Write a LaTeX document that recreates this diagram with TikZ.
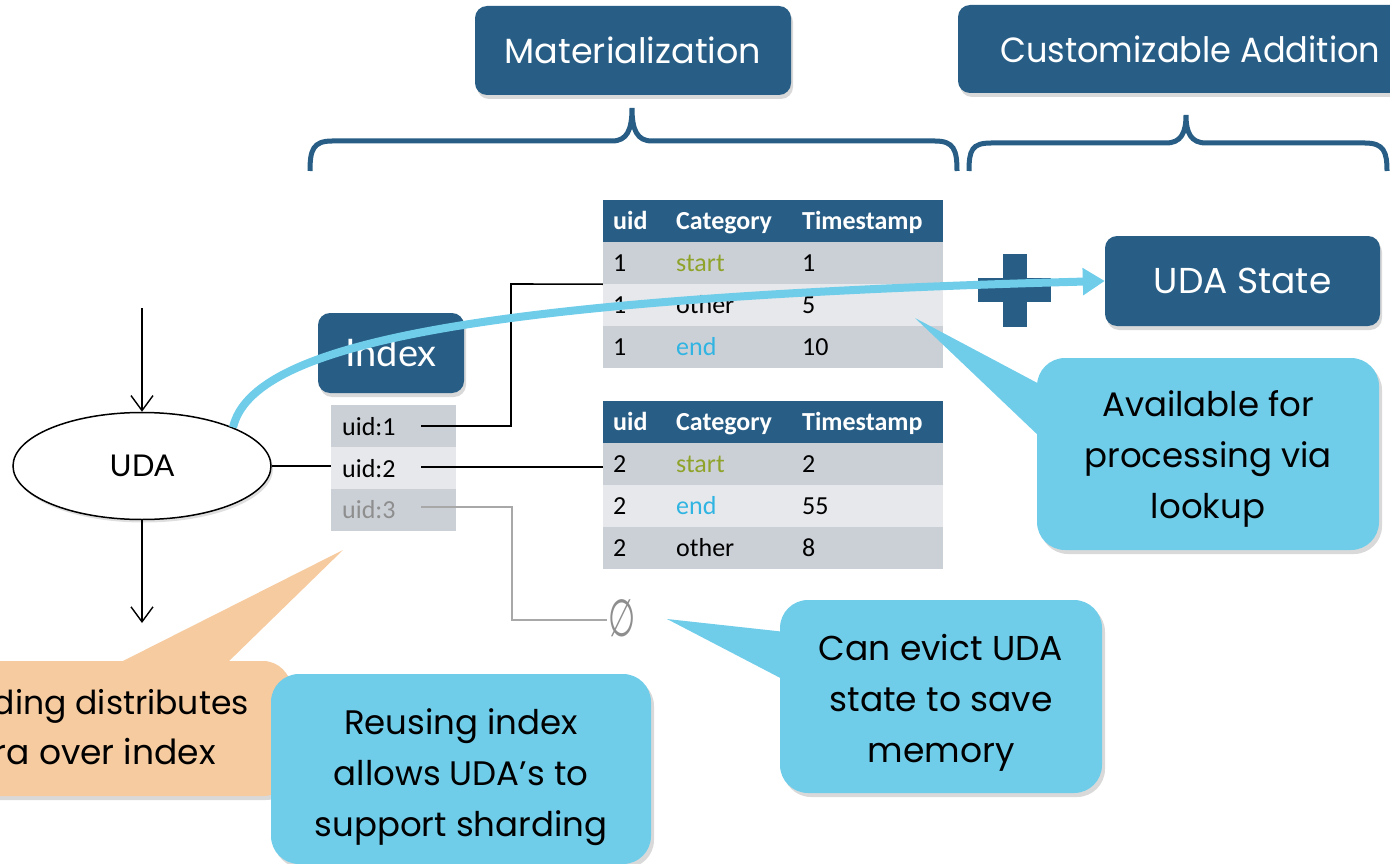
\documentclass[tikz,border=0pt]{standalone}
\usepackage{fontspec}
\setmainfont{Carlito}
\newfontfamily\gothic{Poppins}
\newfontfamily\narrowgothic[FakeStretch=0.96]{Poppins}
\newfontfamily\humfont{Lato}
\newfontfamily\symfont{DejaVu Sans}
\usetikzlibrary{arrows.meta,shadows,shapes.geometric,calc}

\definecolor{navy}{HTML}{285E86}
\definecolor{sky}{HTML}{6FCDEA}
\definecolor{peach}{HTML}{F6CBA0}
\definecolor{rowA}{HTML}{CBD0D7}
\definecolor{rowB}{HTML}{E7E8EC}
\definecolor{olive}{HTML}{8FA32A}
\definecolor{cyanword}{HTML}{30B4E2}
\definecolor{greytext}{HTML}{8E8E8E}
\definecolor{greyline}{HTML}{A8A8A8}

% one table row: name, top edge, fill, uid, category, category colour, timestamp
\newcommand\trow[7]{%
  \node[rowcell, fill=#3] (#1) at (773,#2+21) {};
  \node[celltxt] (#1u) at (613,#2+29) {#4};
  \node[celltxt, text=#6] (#1c) at (676,#2+29) {#5};
  \node[celltxt] (#1t) at (802,#2+29) {#7};
}
% header row of a table
\newcommand\thead[2]{%
  \node[rowcell, fill=navy] (#1) at (773,#2+21) {};
  \node[celltxt, headtxt] (#1u) at (613,#2+29) {uid};
  \node[celltxt, headtxt] (#1c) at (676,#2+29) {Category};
  \node[celltxt, headtxt] (#1t) at (802,#2+29) {Timestamp};
}

\begin{document}
\begin{tikzpicture}[x=1pt,y=-1pt,
  navybox/.style={rectangle, rounded corners=12pt, fill=navy, text=white, inner sep=0pt,
    drop shadow={opacity=0.3, shadow xshift=2pt, shadow yshift=-4pt}},
  titletxt/.style={font=\gothic\fontsize{35}{40}\selectfont},
  rowcell/.style={rectangle, minimum width=340pt, minimum height=42pt, inner sep=0pt},
  celltxt/.style={anchor=base west, inner sep=0pt, font=\fontsize{26}{30}\selectfont},
  headtxt/.style={text=white, font=\bfseries\fontsize{26}{30}\selectfont},
  listcell/.style={rectangle, minimum width=125pt, minimum height=42pt, inner sep=0pt},
  link/.style={line width=1.6pt, black},
  flow/.style={line width=1.4pt, -{Straight Barb[length=15pt,width=22pt]}},
  callbox/.style={rectangle, rounded corners=28pt, fill=sky, inner sep=0pt,
    drop shadow={opacity=0.3, shadow xshift=3pt, shadow yshift=-4pt}},
  calltxt/.style={align=center, inner sep=0pt, font=\gothic\fontsize{#1}{51}\selectfont},
  brace/.style={navy, line width=5pt}
]
\useasboundingbox (0,0) rectangle (1390,864);
\clip (0,0) rectangle (1390,864);

% section titles
\node[navybox, titletxt, minimum width=316pt, minimum height=89pt] (mat) at (633,50.5) {Materialization};
\node[navybox, minimum width=470pt, minimum height=88pt] (cust) at (1193,49) {};
\node[font=\narrowgothic\fontsize{35}{40}\selectfont, text=white, anchor=west, inner sep=0pt] (custtxt) at (1000,49) {Customizable Addition};

% braces under the titles
\draw[brace] (310,171) .. controls (310,150) and (313,141) .. (332,141) -- (612,141)
  .. controls (627,141) and (632,130) .. (632,108)
  .. controls (632,130) and (637,141) .. (652,141) -- (935,141)
  .. controls (954,141) and (957,150) .. (957,171);
\draw[brace] (969,171) .. controls (969,150) and (972,143) .. (991,143) -- (1166,143)
  .. controls (1181,143) and (1186,133) .. (1186,115)
  .. controls (1186,133) and (1191,143) .. (1206,143) -- (1365,143)
  .. controls (1384,143) and (1387,152) .. (1387,171);

% UDA operator with its input and output
\node[ellipse, draw, line width=1.5pt, fill=white, minimum width=258pt, minimum height=107pt,
  font=\humfont\fontsize{30}{36}\selectfont,
  drop shadow={opacity=0.25, shadow xshift=2pt, shadow yshift=-3pt}] (uda) at (142,466) {UDA};
\coordinate (input) at (142,308);
\coordinate (output) at (142,623);
\draw[flow] (input) -- (uda.north);
\draw[flow] (uda.south) -- (output);

% index
\node[navybox, minimum width=146pt, minimum height=80pt, font=\humfont\fontsize{38}{42}\selectfont] (idx) at (391,353) {Index};
\node[listcell, fill=rowA] (l1) at (393.5,426) {};
\node[listcell, fill=rowB] (l2) at (393.5,468) {};
\node[listcell, fill=rowA] (l3) at (393.5,510) {};
\node[celltxt] (l1t) at (342,435) {uid:1};
\node[celltxt] (l2t) at (342,477) {uid:2};
\node[celltxt, text=greytext] (l3t) at (342,518) {uid:3};
\draw[link] (uda.east) -- (uda.east -| l2.west);

% materialized tables
\thead{ta}{200}
\trow{tb}{242}{rowA}{1}{start}{olive}{1}
\trow{tc}{284}{rowB}{1}{other}{black}{5}
\trow{td}{326}{rowA}{1}{end}{cyanword}{10}

\thead{te}{401}
\trow{tf}{443}{rowA}{2}{start}{olive}{2}
\trow{tg}{485}{rowB}{2}{end}{cyanword}{55}
\trow{th}{527}{rowA}{2}{other}{black}{8}

% index entries pointing at their state
\draw[link] ($(l1.east)+(-35,0)$) -| (511,284) -- (tb.south west);
\draw[link] ($(l2.east)+(-35,-1)$) -- ($(tf.west |- l2.east)+(0,-1)$);
\node[text=greytext, font=\symfont\fontsize{52}{56}\selectfont, inner sep=1pt] (empty) at (622,618) {\scalebox{0.6}[1]{∅}};
\draw[greyline, line width=1.6pt] ($(l3.east)+(-35,-3)$) -| (512,620) -- (empty.west |- 0,620);

% plus sign and UDA state
\fill[navy] (1003,254) rectangle (1027,327);
\fill[navy] (978,278) rectangle (1051,302);
\node[navybox, minimum width=275pt, minimum height=90pt, font=\gothic\fontsize{36}{40}\selectfont] (state) at (1242.5,281) {UDA State};

% lookup path from the UDA to its state
\draw[sky, line width=8pt, -{Triangle[length=22pt,width=26pt]}]
  (uda.23) .. controls (252,345) and (470,298) .. (state.west);

% callouts
\node[callbox, minimum width=342pt, minimum height=192pt] (avail) at (1208,454) {};
\fill[sky] ($(avail.north west)+(4,27)$) -- (915,318) -- ($(avail.north west)+(4,80)$) -- cycle;
\node[calltxt=34] (availtxt) at (1208,459) {Available for\\processing via\\lookup};

\node[callbox, minimum width=322pt, minimum height=193pt] (evict) at (941,696.5) {};
\fill[sky] ($(evict.north west)+(4,32)$) -- (667,619) -- ($(evict.north west)+(4,80)$) -- cycle;
\node[calltxt=34.5] (evicttxt) at (941,703) {Can evict UDA\\state to save\\memory};

\node[callbox, fill=peach, minimum width=341pt, minimum height=135pt] (shard) at (120.5,728.5) {};
\fill[peach] (115,665) -- (343,550) -- (225,665) -- cycle;
\node[calltxt=33, anchor=east] (shard1) at (249,706) {Sharding distributes};
\node[calltxt=34.5, anchor=east] (shard2) at (216,756) {algebra over index};

\node[callbox, minimum width=380pt, minimum height=190pt] (reuse) at (461,769) {};
\node[calltxt=34] (reusetxt) at (461,777) {Reusing index\\allows UDA’s to\\support sharding};
\end{tikzpicture}
\end{document}
